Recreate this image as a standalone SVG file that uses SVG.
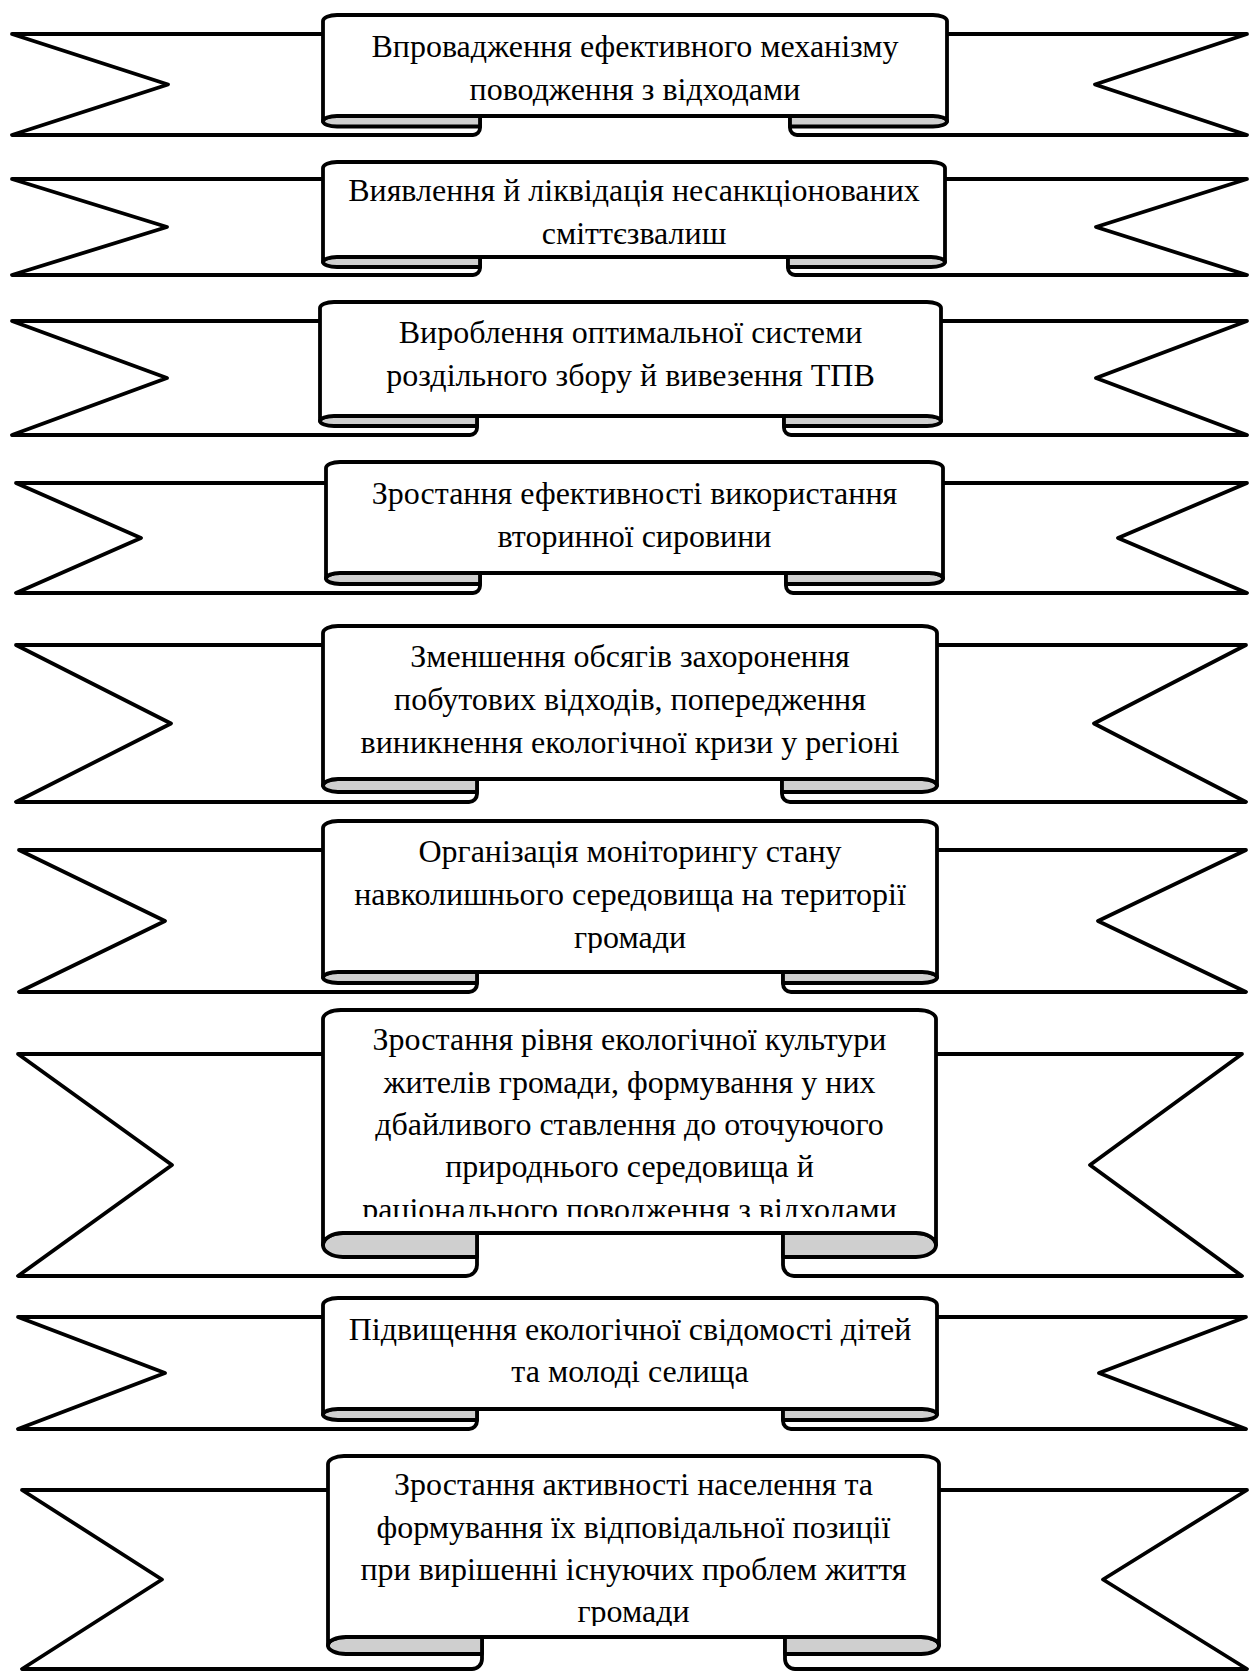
<svg xmlns="http://www.w3.org/2000/svg" width="1249" height="1672" viewBox="0 0 1249 1672">
<style>
.tail{fill:#fff;stroke:#000;stroke-width:3.8;stroke-linejoin:round;stroke-linecap:round}
.lens{fill:#cfcfcf;stroke:#000;stroke-width:3.8;stroke-linejoin:round}
.panel{fill:#fff;stroke:#000;stroke-width:3.8;stroke-linejoin:round}
.t{font-family:"Liberation Serif","Times New Roman",serif;font-size:32px;fill:#000;text-anchor:middle}
</style>
<defs>
<clipPath id="c1"><rect x="323" y="15" width="624" height="93"/></clipPath>
<clipPath id="c2"><rect x="323" y="162" width="622" height="84"/></clipPath>
<clipPath id="c3"><rect x="320" y="302" width="621" height="104"/></clipPath>
<clipPath id="c4"><rect x="326" y="462" width="617" height="101"/></clipPath>
<clipPath id="c5"><rect x="323" y="626" width="614" height="142"/></clipPath>
<clipPath id="c6"><rect x="323" y="821" width="614" height="132"/></clipPath>
<clipPath id="c7"><rect x="323" y="1010" width="613" height="207"/></clipPath>
<clipPath id="c8"><rect x="323" y="1298" width="614" height="100"/></clipPath>
<clipPath id="c9"><rect x="328" y="1456" width="611" height="170"/></clipPath>
</defs>

<g id="ribbon-1">
<path class="tail" d="M 333,34 H 12 L 168,84.5 L 12,135 H 473 A 7 7 0 0 0 480,128 V 116"/>
<path class="tail" d="M 937,34 H 1247 L 1095,84.5 L 1247,135 H 797 A 7 7 0 0 1 790,128 V 116"/>
<path class="lens" d="M 480,116 H 337 A 14 5.25 0 0 0 337,126.5 H 480 Z"/>
<path class="lens" d="M 790,116 H 933 A 14 5.25 0 0 1 933,126.5 H 790 Z"/>
<path class="panel" d="M 323,121.25 V 21 A 14 6 0 0 1 337,15 H 933 A 14 6 0 0 1 947,21 V 121.25 A 14 5.25 0 0 0 933,116 H 337 A 14 5.25 0 0 0 323,121.25 Z"/>
<g clip-path="url(#c1)">
<text class="t" x="635" y="57">Впровадження ефективного механізму</text>
<text class="t" x="635" y="100">поводження з відходами</text>
</g>
</g>

<g id="ribbon-2">
<path class="tail" d="M 333,179 H 12 L 167,227 L 12,275 H 473 A 7 7 0 0 0 480,268 V 257"/>
<path class="tail" d="M 935,179 H 1247 L 1096,227 L 1247,275 H 795 A 7 7 0 0 1 788,268 V 257"/>
<path class="lens" d="M 480,257 H 337 A 14 5 0 0 0 337,267 H 480 Z"/>
<path class="lens" d="M 788,257 H 931 A 14 5 0 0 1 931,267 H 788 Z"/>
<path class="panel" d="M 323,262 V 168 A 14 6 0 0 1 337,162 H 931 A 14 6 0 0 1 945,168 V 262 A 14 5 0 0 0 931,257 H 337 A 14 5 0 0 0 323,262 Z"/>
<g clip-path="url(#c2)">
<text class="t" x="634" y="201">Виявлення й ліквідація несанкціонованих</text>
<text class="t" x="634" y="244">сміттєзвалиш</text>
</g>
</g>

<g id="ribbon-3">
<path class="tail" d="M 330,321 H 12 L 167,378 L 12,435 H 470 A 7 7 0 0 0 477,428 V 416"/>
<path class="tail" d="M 931,321 H 1247 L 1096,378 L 1247,435 H 791 A 7 7 0 0 1 784,428 V 416"/>
<path class="lens" d="M 477,416 H 334 A 14 5 0 0 0 334,426 H 477 Z"/>
<path class="lens" d="M 784,416 H 927 A 14 5 0 0 1 927,426 H 784 Z"/>
<path class="panel" d="M 320,421 V 308 A 14 6 0 0 1 334,302 H 927 A 14 6 0 0 1 941,308 V 421 A 14 5 0 0 0 927,416 H 334 A 14 5 0 0 0 320,421 Z"/>
<g clip-path="url(#c3)">
<text class="t" x="630.5" y="343">Вироблення оптимальної системи</text>
<text class="t" x="630.5" y="386">роздільного збору й вивезення ТПВ</text>
</g>
</g>

<g id="ribbon-4">
<path class="tail" d="M 336,483 H 16 L 141,538 L 16,593 H 473 A 7 7 0 0 0 480,586 V 573"/>
<path class="tail" d="M 933,483 H 1247 L 1118,538 L 1247,593 H 793 A 7 7 0 0 1 786,586 V 573"/>
<path class="lens" d="M 480,573 H 340 A 14 5.5 0 0 0 340,584 H 480 Z"/>
<path class="lens" d="M 786,573 H 929 A 14 5.5 0 0 1 929,584 H 786 Z"/>
<path class="panel" d="M 326,578.5 V 468 A 14 6 0 0 1 340,462 H 929 A 14 6 0 0 1 943,468 V 578.5 A 14 5.5 0 0 0 929,573 H 340 A 14 5.5 0 0 0 326,578.5 Z"/>
<g clip-path="url(#c4)">
<text class="t" x="634.5" y="504">Зростання ефективності використання</text>
<text class="t" x="634.5" y="547">вторинної сировини</text>
</g>
</g>

<g id="ribbon-5">
<path class="tail" d="M 333,645 H 16 L 171,723.5 L 16,802 H 469 A 8 8 0 0 0 477,794 V 779"/>
<path class="tail" d="M 927,645 H 1246 L 1094,723.5 L 1246,802 H 790 A 8 8 0 0 1 782,794 V 779"/>
<path class="lens" d="M 477,779 H 338 A 15 6.5 0 0 0 338,792 H 477 Z"/>
<path class="lens" d="M 782,779 H 922 A 15 6.5 0 0 1 922,792 H 782 Z"/>
<path class="panel" d="M 323,785.5 V 633 A 15 7 0 0 1 338,626 H 922 A 15 7 0 0 1 937,633 V 785.5 A 15 6.5 0 0 0 922,779 H 338 A 15 6.5 0 0 0 323,785.5 Z"/>
<g clip-path="url(#c5)">
<text class="t" x="630" y="667">Зменшення обсягів захоронення</text>
<text class="t" x="630" y="710">побутових відходів, попередження</text>
<text class="t" x="630" y="753">виникнення екологічної кризи у регіоні</text>
</g>
</g>

<g id="ribbon-6">
<path class="tail" d="M 333,850 H 19 L 165,921 L 19,992 H 469 A 8 8 0 0 0 477,984 V 972"/>
<path class="tail" d="M 927,850 H 1246 L 1098,921 L 1246,992 H 791 A 8 8 0 0 1 783,984 V 972"/>
<path class="lens" d="M 477,972 H 338 A 15 5.5 0 0 0 338,983 H 477 Z"/>
<path class="lens" d="M 783,972 H 922 A 15 5.5 0 0 1 922,983 H 783 Z"/>
<path class="panel" d="M 323,977.5 V 828 A 15 7 0 0 1 338,821 H 922 A 15 7 0 0 1 937,828 V 977.5 A 15 5.5 0 0 0 922,972 H 338 A 15 5.5 0 0 0 323,977.5 Z"/>
<g clip-path="url(#c6)">
<text class="t" x="630" y="862">Організація моніторингу стану</text>
<text class="t" x="630" y="905">навколишнього середовища на території</text>
<text class="t" x="630" y="948">громади</text>
</g>
</g>

<g id="ribbon-7">
<path class="tail" d="M 333,1054 H 18 L 172,1165 L 18,1276 H 466 A 11 11 0 0 0 477,1265 V 1233"/>
<path class="tail" d="M 926,1054 H 1242 L 1090,1165 L 1242,1276 H 794 A 11 11 0 0 1 783,1265 V 1233"/>
<path class="lens" d="M 477,1233 H 343 A 20 12 0 0 0 343,1257 H 477 Z"/>
<path class="lens" d="M 783,1233 H 916 A 20 12 0 0 1 916,1257 H 783 Z"/>
<path class="panel" d="M 323,1245 V 1019 A 18 9 0 0 1 341,1010 H 918 A 18 9 0 0 1 936,1019 V 1245 A 20 12 0 0 0 916,1233 H 343 A 20 12 0 0 0 323,1245 Z"/>
<g clip-path="url(#c7)">
<text class="t" x="629.5" y="1050">Зростання рівня екологічної культури</text>
<text class="t" x="629.5" y="1093">жителів громади, формування у них</text>
<text class="t" x="629.5" y="1135">дбайливого ставлення до оточуючого</text>
<text class="t" x="629.5" y="1177">природнього середовища й</text>
<text class="t" x="629.5" y="1220">раціонального поводження з відходами</text>
</g>
</g>

<g id="ribbon-8">
<path class="tail" d="M 333,1317 H 18 L 165,1373 L 18,1429 H 469 A 8 8 0 0 0 477,1421 V 1409"/>
<path class="tail" d="M 927,1317 H 1246 L 1099,1373 L 1246,1429 H 791 A 8 8 0 0 1 783,1421 V 1409"/>
<path class="lens" d="M 477,1409 H 338 A 15 5.5 0 0 0 338,1420 H 477 Z"/>
<path class="lens" d="M 783,1409 H 922 A 15 5.5 0 0 1 922,1420 H 783 Z"/>
<path class="panel" d="M 323,1414.5 V 1305 A 15 7 0 0 1 338,1298 H 922 A 15 7 0 0 1 937,1305 V 1414.5 A 15 5.5 0 0 0 922,1409 H 338 A 15 5.5 0 0 0 323,1414.5 Z"/>
<g clip-path="url(#c8)">
<text class="t" x="630" y="1340">Підвищення екологічної свідомості дітей</text>
<text class="t" x="630" y="1382">та молоді селища</text>
</g>
</g>

<g id="ribbon-9">
<path class="tail" d="M 338,1490 H 22 L 162,1579.5 L 22,1669 H 472 A 10 10 0 0 0 482,1659 V 1637"/>
<path class="tail" d="M 929,1490 H 1247 L 1103,1579.5 L 1247,1669 H 795 A 10 10 0 0 1 785,1659 V 1637"/>
<path class="lens" d="M 482,1637 H 346 A 18 8.5 0 0 0 346,1654 H 482 Z"/>
<path class="lens" d="M 785,1637 H 921 A 18 8.5 0 0 1 921,1654 H 785 Z"/>
<path class="panel" d="M 328,1645.5 V 1464 A 16 8 0 0 1 344,1456 H 923 A 16 8 0 0 1 939,1464 V 1645.5 A 18 8.5 0 0 0 921,1637 H 346 A 18 8.5 0 0 0 328,1645.5 Z"/>
<g clip-path="url(#c9)">
<text class="t" x="633.5" y="1495">Зростання активності населення та</text>
<text class="t" x="633.5" y="1538">формування їх відповідальної позиції</text>
<text class="t" x="633.5" y="1580">при вирішенні існуючих проблем життя</text>
<text class="t" x="633.5" y="1622">громади</text>
</g>
</g>
</svg>
